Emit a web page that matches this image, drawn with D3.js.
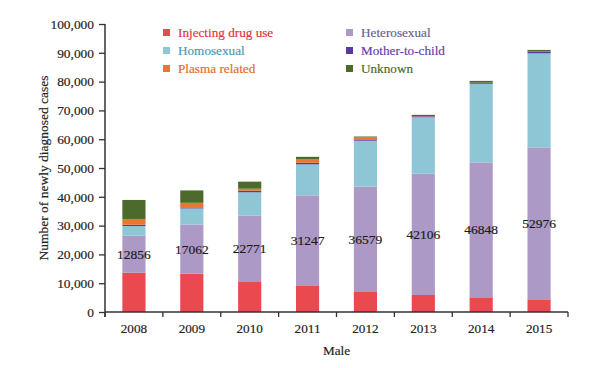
<!DOCTYPE html>
<html><head><meta charset="utf-8">
<script src="https://cdn.jsdelivr.net/npm/d3@7"></script>
<style>body{margin:0;background:#fff}svg{display:block}text{font-family:"Liberation Serif","Times New Roman",serif}</style>
</head><body><svg id="c" width="600" height="368"></svg>
<script>
const years = ["2008","2009","2010","2011","2012","2013","2014","2015"];
const seriesNames = ["Injecting drug use","Heterosexual","Homosexual","Mother-to-child","Plasma related","Unknown"];
const injecting = [13650,13300,10650,9250,6950,5900,5100,4170];
const heterosexual = [12856,17062,22771,31247,36579,42106,46848,52976];
const homosexual = [3350,5600,8140,10770,15950,19600,27200,32650];
const motherToChild = [450,350,550,560,450,350,300,500];
const plasma = [2000,1600,700,1150,700,100,150,100];
const unknown = [6600,4300,2450,900,300,400,650,600];
const yTicks = [0,10000,20000,30000,40000,50000,60000,70000,80000,90000,100000];
const colors = ["#e9494f","#ac99c6","#8ec6d6","#5a3a9c","#ea7630","#4b6a2c"];
const legendOrder = ["Injecting drug use","Homosexual","Plasma related","Heterosexual","Mother-to-child","Unknown"];
const textColors = {"Injecting drug use":"#e0343c","Homosexual":"#4a98b4","Plasma related":"#e56a24","Heterosexual":"#6e5e92","Mother-to-child":"#6a3aaa","Unknown":"#4b6a2c"};

const cols = [injecting,heterosexual,homosexual,motherToChild,plasma,unknown];
const table = years.map((y,i)=>{const o={year:y}; seriesNames.forEach((s,k)=>o[s]=cols[k][i]); return o;});
const stacked = d3.stack().keys(seriesNames)(table);
const color = d3.scaleOrdinal(seriesNames, colors);

const svg = d3.select("#c");
const m = {l:105, r:32, t:24, b:56};
const W = 600, H = 368;
const x = d3.scaleBand(years,[m.l, W-m.r]);
const y = d3.scaleLinear([0,100000],[H-m.b, m.t]);
const barW = x.bandwidth()*0.4;

function heavy(sel, c){ return sel.attr("stroke",c).attr("stroke-width",0.18).attr("paint-order","stroke"); }

svg.append("g").selectAll("g").data(stacked).join("g").attr("fill",d=>color(d.key))
  .selectAll("rect").data(d=>d).join("rect")
  .attr("x",d=>x(d.data.year)+x.bandwidth()/2-barW/2)
  .attr("width",barW)
  .attr("y",d=>y(d[1]))
  .attr("height",d=>y(d[0])-y(d[1]));

// labels in heterosexual segment
const het = stacked[1];
heavy(svg.append("g").selectAll("text").data(het).join("text")
  .attr("x",d=>x(d.data.year)+x.bandwidth()/2)
  .attr("y",d=>y((d[0]+d[1])/2))
  .attr("dy","0.33em").attr("text-anchor","middle")
  .attr("font-size",13.5).attr("fill","#1a1a1a")
  .text(d=>d.data["Heterosexual"]), "#1a1a1a");

// y axis
const ya = svg.append("g").attr("transform",`translate(${m.l},0)`)
  .call(d3.axisLeft(y).tickValues(yTicks).tickSize(6).tickPadding(5).tickFormat(d3.format(",")));
ya.select(".domain").attr("stroke","#333").attr("stroke-width",1.5).attr("d",`M-0,${y(100000)}V${H-m.b+5}`);
ya.selectAll(".tick line").attr("stroke","#333").attr("stroke-width",1.3);
heavy(ya.selectAll(".tick text").attr("font-size",13.4).attr("fill","#222").style("font-family","Liberation Serif"), "#222");

// x axis
const xa = svg.append("g").attr("transform",`translate(0,${H-m.b})`);
xa.append("line").attr("x1",m.l).attr("x2",W-m.r).attr("stroke","#333").attr("stroke-width",1.5);
const bounds = years.map(d=>x(d)).concat([x(years[years.length-1])+x.bandwidth()]);
xa.selectAll("line.t").data(bounds).join("line").attr("class","t")
  .attr("x1",d=>d).attr("x2",d=>d).attr("y1",0).attr("y2",5).attr("stroke","#333").attr("stroke-width",1.3);
heavy(xa.selectAll("text").data(years).join("text")
  .attr("x",d=>x(d)+x.bandwidth()/2).attr("y",16).attr("dy","0.35em")
  .attr("text-anchor","middle").attr("font-size",13.2).attr("fill","#222").text(d=>d), "#222");

heavy(svg.append("text").attr("x",(m.l+W-m.r)/2).attr("y",350).attr("dy","0.35em")
  .attr("text-anchor","middle").attr("font-size",13.2).attr("fill","#222").text("Male"), "#222");
heavy(svg.append("text").attr("transform",`translate(43.5,168) rotate(-90)`).attr("dy","0.35em")
  .attr("text-anchor","middle").attr("font-size",13.5).attr("fill","#222").text("Number of newly diagnosed cases"), "#222");

// legend
const lg = svg.append("g");
legendOrder.forEach((s,i)=>{
  const col = Math.floor(i/3), row = i%3;
  const lx = col===0 ? 163 : 346, ly = 32.5 + row*18;
  lg.append("rect").attr("x",lx).attr("y",ly-3.5).attr("width",7).attr("height",7).attr("fill",color(s));
  heavy(lg.append("text").attr("x",lx+15).attr("y",ly).attr("dy","0.33em").attr("font-size",13.2)
    .attr("fill",textColors[s]).text(s), textColors[s]);
});
</script></body></html>
